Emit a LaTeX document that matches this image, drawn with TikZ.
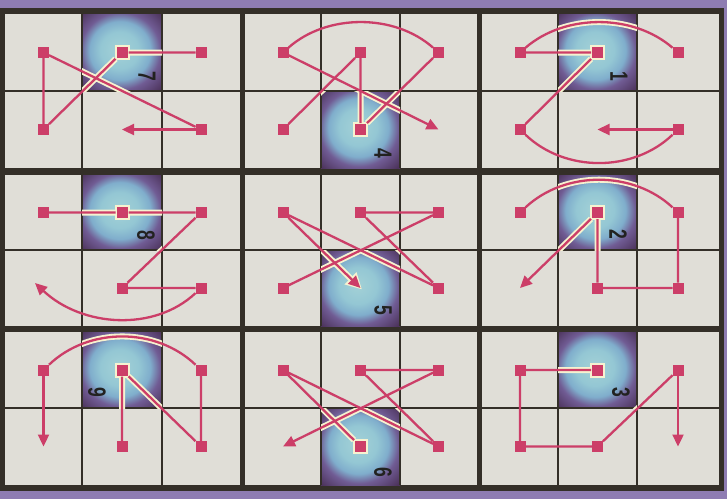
\documentclass[tikz,border=0pt]{standalone}
\usepackage{fontspec}
\setmainfont{Liberation Sans}
\usetikzlibrary{arrows.meta}
\definecolor{purp}{RGB}{142,124,178}
\definecolor{framec}{RGB}{52,47,40}
\definecolor{cellbg}{RGB}{224,222,215}
\definecolor{pinkc}{RGB}{204,62,104}
\definecolor{glowc}{RGB}{246,242,208}
\definecolor{digitc}{RGB}{34,34,32}
\pgfdeclarelayer{back}
\pgfdeclarelayer{glow}
\pgfsetlayers{back,glow,main}
\pgfdeclareradialshading{hilite}{\pgfpoint{-2bp}{2bp}}{rgb(0bp)=(0.64,0.82,0.84); rgb(12bp)=(0.58,0.78,0.83); rgb(19bp)=(0.50,0.68,0.80); rgb(25bp)=(0.44,0.36,0.58); rgb(35bp)=(0.30,0.20,0.36); rgb(50bp)=(0.30,0.20,0.36)}
% connector sets of the nine panels: #1 = line style, #2 = arrow style
\newcommand\pnlA[2]{\draw[#1] (saTR) -- (saTM) -- (saBL) -- (saTL) -- (saBR); \draw[#2] (saBR) -- (a-BM);}
\newcommand\pnlB[2]{\draw[#1] (sbBL) -- (sbTM) -- (sbBM) -- (sbTR) .. controls +(-44,-39) and +(44,-39) .. (sbTL); \draw[#2] (sbTL) -- (b-BR);}
\newcommand\pnlC[2]{\draw[#1] (scTR) .. controls +(-45,-39) and +(45,-39) .. (scTL) -- (scTM) -- (scBL) .. controls +(45,43) and +(-45,43) .. (scBR); \draw[#2] (scBR) -- (c-BM);}
\newcommand\pnlD[2]{\draw[#1] (sdTL) -- (sdTM) -- (sdTR) -- (sdBM) -- (sdBR); \draw[#2] (sdBR) .. controls +(-47,44) and +(47,44) .. (d-tip);}
\newcommand\pnlE[2]{\draw[#1] (seBL) -- (seTR) -- (seTM) -- (seBR) -- (seTL); \draw[#2] (seTL) -- (e-BM);}
\newcommand\pnlF[2]{\draw[#1] (sfTL) .. controls +(45,-42) and +(-45,-42) .. (sfTR) -- (sfBR) -- (sfBM) -- (sfTM); \draw[#2] (sfTM) -- (f-BL);}
\newcommand\pnlG[2]{\draw[#1] (sgBM) -- (sgTM) -- (sgBR) -- (sgTR) .. controls +(-45,-43) and +(45,-43) .. (sgTL); \draw[#2] (sgTL) -- (g-BL);}
\newcommand\pnlH[2]{\draw[#1] (shBM) -- (shTL) -- (shBR) -- (shTM) -- (shTR); \draw[#2] (shTR) -- (h-BL);}
\newcommand\pnlI[2]{\draw[#1] (siTM) -- (siTL) -- (siBL) -- (siBM) -- (siTR); \draw[#2] (siTR) -- (i-BR);}
\begin{document}
\begin{tikzpicture}[x=1pt,y=-1pt,
  sq/.style={rectangle, fill=pinkc, minimum size=11pt, inner sep=0pt, outer sep=0pt},
  hsq/.style={sq, draw=glowc, line width=2pt, minimum size=13pt},
  pk/.style={draw=pinkc, line width=2.3pt},
  pka/.style={pk, -{Triangle[length=12pt,width=11pt]}},
  glw/.style={draw=glowc, line width=6pt},
  glwa/.style={glw, shorten >=-2pt, -{Triangle[length=16pt,width=16pt]}},
  divider/.style={draw=framec, line width=1.7pt},
  num/.style={text=digitc, font=\fontsize{25}{25}\selectfont\bfseries, inner sep=0pt, rotate=-90}]
\useasboundingbox (0,0) rectangle (727,499);
\begin{pgfonlayer}{back}
\fill[purp] (0,0) rectangle (727,499);
\fill[framec] (0,8) rectangle (724,491);
\foreach \n/\xa/\xb/\xc/\xd/\ya/\yb/\yc in {
  a/5/82/162/240/14/91/168, b/245/321/400/477/14/91/168, c/482/558/637/719/14/91/168,
  d/5/82/162/240/175/250/326, e/245/321/400/477/175/250/326, f/482/558/637/719/175/250/326,
  g/5/82/162/240/332/408/485, h/245/321/400/477/332/408/485, i/482/558/637/719/332/408/485}{
  \fill[cellbg] (\xa,\ya) rectangle (\xd,\yc);
  \coordinate (\n-TL) at ({(\xa+\xb)/2},{(\ya+\yb)/2});
  \coordinate (\n-TM) at ({(\xb+\xc)/2},{(\ya+\yb)/2});
  \coordinate (\n-TR) at ({(\xc+\xd)/2},{(\ya+\yb)/2});
  \coordinate (\n-BL) at ({(\xa+\xb)/2},{(\yb+\yc)/2});
  \coordinate (\n-BM) at ({(\xb+\xc)/2},{(\yb+\yc)/2});
  \coordinate (\n-BR) at ({(\xc+\xd)/2},{(\yb+\yc)/2});
}
% highlighted cells
\shade[shading=hilite] (82,14) rectangle (162,91);
\shade[shading=hilite] (321,91) rectangle (400,168);
\shade[shading=hilite] (558,14) rectangle (637,91);
\shade[shading=hilite] (82,175) rectangle (162,250);
\shade[shading=hilite] (321,250) rectangle (400,326);
\shade[shading=hilite] (558,175) rectangle (637,250);
\shade[shading=hilite] (82,332) rectangle (162,408);
\shade[shading=hilite] (321,408) rectangle (400,485);
\shade[shading=hilite] (558,332) rectangle (637,408);
\foreach \xa/\xb/\xc/\xd/\ya/\yb/\yc in {
  5/82/162/240/14/91/168, 245/321/400/477/14/91/168, 482/558/637/719/14/91/168,
  5/82/162/240/175/250/326, 245/321/400/477/175/250/326, 482/558/637/719/175/250/326,
  5/82/162/240/332/408/485, 245/321/400/477/332/408/485, 482/558/637/719/332/408/485}{
  \draw[divider] (\xb,\ya) -- (\xb,\yc) (\xc,\ya) -- (\xc,\yc) (\xa,\yb) -- (\xd,\yb);
}
\node[num] (n7) at (147,76) {\scalebox{0.7}[1]{7}};
\node[num] (n4) at (383,153) {\scalebox{0.7}[1]{4}};
\node[num] (n1) at (619,76) {\scalebox{0.7}[1]{1}};
\node[num] (n8) at (146,235) {\scalebox{0.7}[1]{8}};
\node[num] (n5) at (383,310) {\scalebox{0.7}[1]{5}};
\node[num] (n2) at (618,234) {\scalebox{0.7}[1]{2}};
\node[num] (n9) at (97,392) {\scalebox{0.7}[1]{9}};
\node[num] (n6) at (383,472) {\scalebox{0.7}[1]{6}};
\node[num] (n3) at (621,392) {\scalebox{0.7}[1]{3}};
\end{pgfonlayer}
\coordinate (d-tip) at (35,283);
% squares
\node[sq] (saTL) at (a-TL) {}; \node[hsq] (saTM) at (a-TM) {}; \node[sq] (saTR) at (a-TR) {};
\node[sq] (saBL) at (a-BL) {}; \node[sq] (saBR) at (a-BR) {};
\node[sq] (sbTL) at (b-TL) {}; \node[sq] (sbTM) at (b-TM) {}; \node[sq] (sbTR) at (b-TR) {};
\node[sq] (sbBL) at (b-BL) {}; \node[hsq] (sbBM) at (b-BM) {};
\node[sq] (scTL) at (c-TL) {}; \node[hsq] (scTM) at (c-TM) {}; \node[sq] (scTR) at (c-TR) {};
\node[sq] (scBL) at (c-BL) {}; \node[sq] (scBR) at (c-BR) {};
\node[sq] (sdTL) at (d-TL) {}; \node[hsq] (sdTM) at (d-TM) {}; \node[sq] (sdTR) at (d-TR) {};
\node[sq] (sdBM) at (d-BM) {}; \node[sq] (sdBR) at (d-BR) {};
\node[sq] (seTL) at (e-TL) {}; \node[sq] (seTM) at (e-TM) {}; \node[sq] (seTR) at (e-TR) {};
\node[sq] (seBL) at (e-BL) {}; \node[sq] (seBR) at (e-BR) {};
\node[sq] (sfTL) at (f-TL) {}; \node[hsq] (sfTM) at (f-TM) {}; \node[sq] (sfTR) at (f-TR) {};
\node[sq] (sfBM) at (f-BM) {}; \node[sq] (sfBR) at (f-BR) {};
\node[sq] (sgTL) at (g-TL) {}; \node[hsq] (sgTM) at (g-TM) {}; \node[sq] (sgTR) at (g-TR) {};
\node[sq] (sgBM) at (g-BM) {}; \node[sq] (sgBR) at (g-BR) {};
\node[sq] (shTL) at (h-TL) {}; \node[sq] (shTM) at (h-TM) {}; \node[sq] (shTR) at (h-TR) {};
\node[hsq] (shBM) at (h-BM) {}; \node[sq] (shBR) at (h-BR) {};
\node[sq] (siTL) at (i-TL) {}; \node[hsq] (siTM) at (i-TM) {}; \node[sq] (siTR) at (i-TR) {};
\node[sq] (siBL) at (i-BL) {}; \node[sq] (siBM) at (i-BM) {};
% glow inside highlighted cells
\begin{pgfonlayer}{glow}
\begin{scope}\clip (82,14) rectangle (162,91); \pnlA{glw}{glwa}\end{scope}
\begin{scope}\clip (321,91) rectangle (400,168); \pnlB{glw}{glwa}\end{scope}
\begin{scope}\clip (558,14) rectangle (637,91); \pnlC{glw}{glwa}\end{scope}
\begin{scope}\clip (82,175) rectangle (162,250); \pnlD{glw}{glwa}\end{scope}
\begin{scope}\clip (321,250) rectangle (400,326); \pnlE{glw}{glwa}\end{scope}
\begin{scope}\clip (558,175) rectangle (637,250); \pnlF{glw}{glwa}\end{scope}
\begin{scope}\clip (82,332) rectangle (162,408); \pnlG{glw}{glwa}\end{scope}
\begin{scope}\clip (321,408) rectangle (400,485); \pnlH{glw}{glwa}\end{scope}
\begin{scope}\clip (558,332) rectangle (637,408); \pnlI{glw}{glwa}\end{scope}
\end{pgfonlayer}
% connectors
\pnlA{pk}{pka}
\pnlB{pk}{pka}
\pnlC{pk}{pka}
\pnlD{pk}{pka}
\pnlE{pk}{pka}
\pnlF{pk}{pka}
\pnlG{pk}{pka}
\pnlH{pk}{pka}
\pnlI{pk}{pka}
\end{tikzpicture}
\end{document}
